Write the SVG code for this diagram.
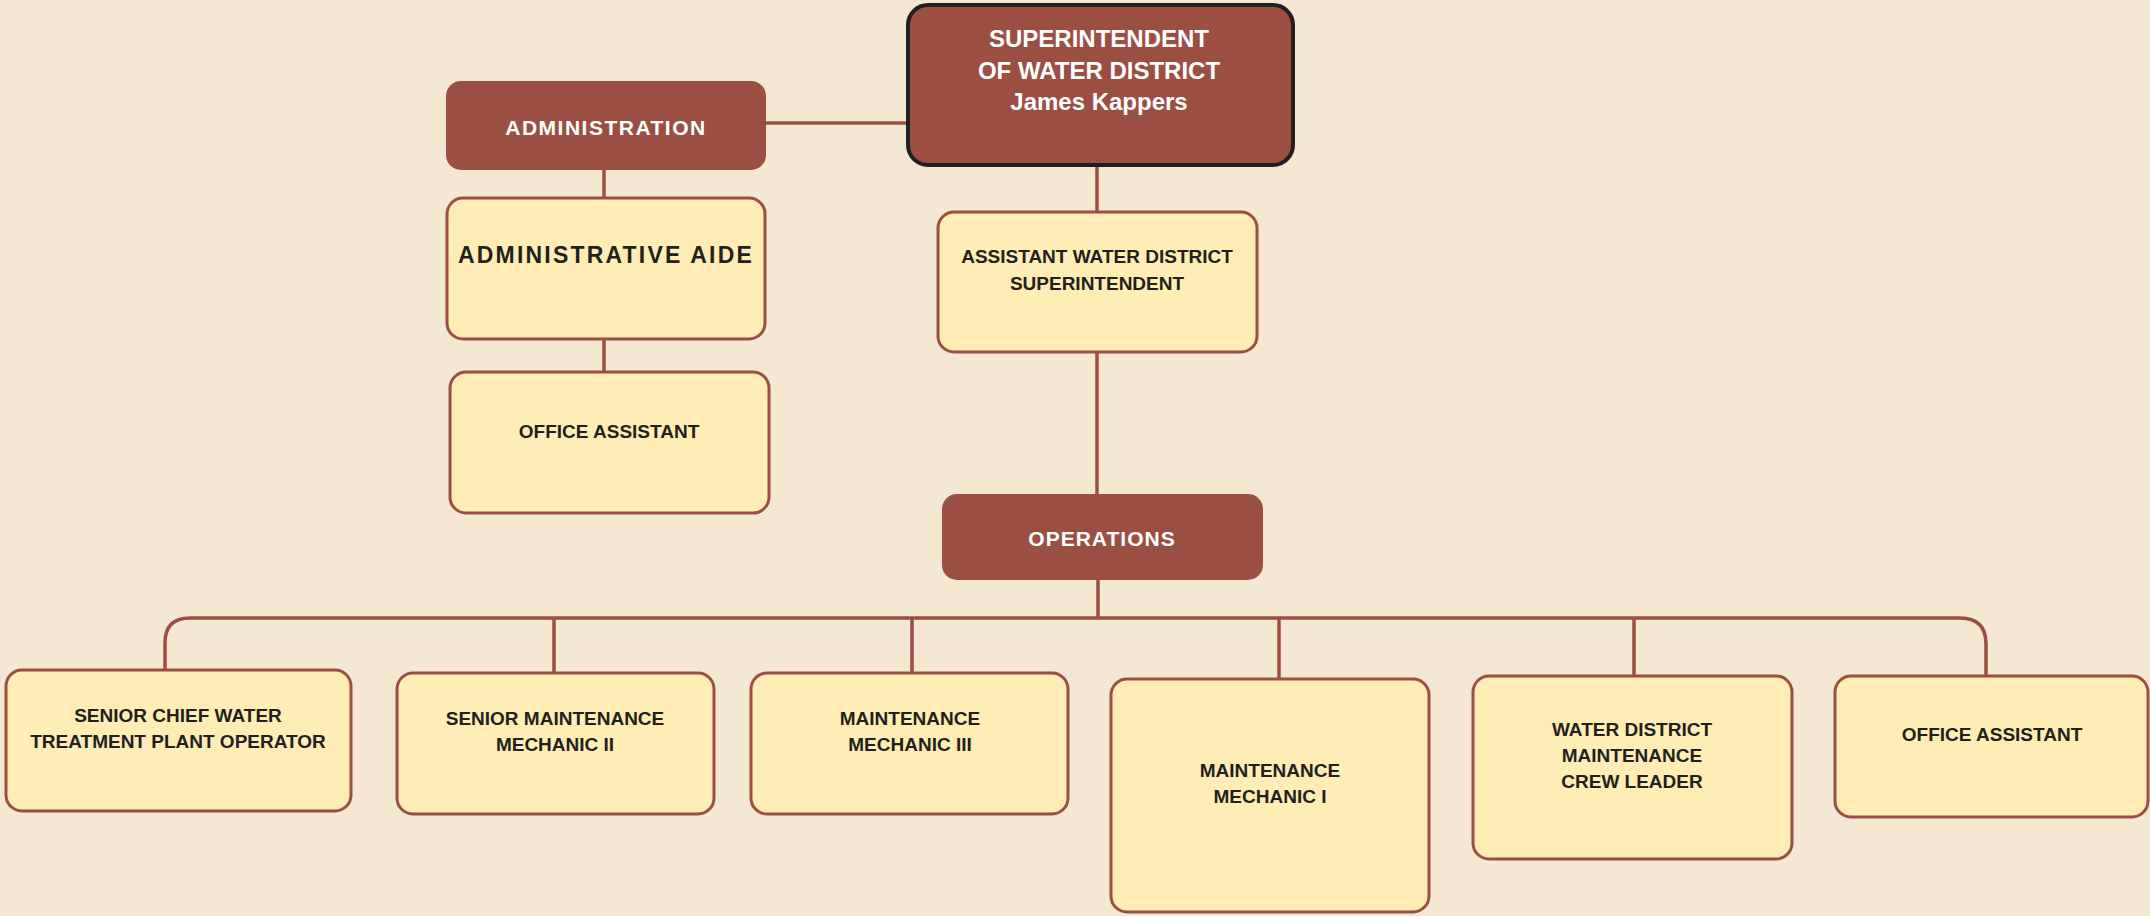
<svg xmlns="http://www.w3.org/2000/svg" width="2150" height="916" viewBox="0 0 2150 916">
<style>
.dark{fill:#9B4F43;}
.light{fill:#FFEDB5;stroke:#9B4F43;stroke-width:3;}
.wt{fill:#FFFFFF;font-family:"Liberation Sans",Arial,sans-serif;font-weight:bold;text-anchor:middle;}
.bt{fill:#231F1E;font-family:"Liberation Sans",Arial,sans-serif;font-weight:bold;text-anchor:middle;font-size:19px;}
.ln{fill:none;stroke:#9B4F43;stroke-width:3.5;}
</style>
<rect x="0" y="0" width="2150" height="916" fill="#F5E8D2"/>
<g id="connectors">
<path class="ln" d="M766,123 H908"/>
<path class="ln" d="M604,170 V197"/>
<path class="ln" d="M604,339 V372"/>
<path class="ln" d="M1097,165 V211"/>
<path class="ln" d="M1097,352 V494"/>
<path class="ln" d="M1098,580 V618"/>
<path class="ln" stroke-width="4.5" d="M165,669 V643 Q165,618 190,618 H1960 Q1986,618 1986,644 V676"/>
<path class="ln" d="M554,618 V673"/>
<path class="ln" d="M912,618 V673"/>
<path class="ln" d="M1279,618 V679"/>
<path class="ln" d="M1634,618 V676"/>
</g>
<g id="superintendent">
<rect x="908" y="5" width="385" height="160" rx="20" fill="#9B4F43" stroke="#231F20" stroke-width="4"/>
<text class="wt" font-size="24" x="1099" y="47">SUPERINTENDENT</text>
<text class="wt" font-size="24" x="1099" y="79">OF WATER DISTRICT</text>
<text class="wt" font-size="24" x="1099" y="110">James Kappers</text>
</g>
<g id="administration">
<rect class="dark" x="446" y="81" width="320" height="89" rx="15"/>
<text class="wt" font-size="21" letter-spacing="1.5" x="606" y="135">ADMINISTRATION</text>
</g>
<g id="administrative-aide">
<rect class="light" x="447" y="198" width="318" height="141" rx="16"/>
<text class="bt" style="font-size:23px" letter-spacing="2.2" x="606" y="263">ADMINISTRATIVE AIDE</text>
</g>
<g id="office-assistant-admin">
<rect class="light" x="450" y="372" width="319" height="141" rx="16"/>
<text class="bt" x="609" y="438">OFFICE ASSISTANT</text>
</g>
<g id="assistant-superintendent">
<rect class="light" x="938" y="212" width="319" height="140" rx="16"/>
<text class="bt" x="1097" y="263">ASSISTANT WATER DISTRICT</text>
<text class="bt" x="1097" y="290">SUPERINTENDENT</text>
</g>
<g id="operations">
<rect class="dark" x="942" y="494" width="321" height="86" rx="15"/>
<text class="wt" font-size="21" letter-spacing="1" x="1102" y="546">OPERATIONS</text>
</g>
<g id="senior-chief">
<rect class="light" x="6" y="670" width="345" height="141" rx="16"/>
<text class="bt" x="178" y="722">SENIOR CHIEF WATER</text>
<text class="bt" x="178" y="748">TREATMENT PLANT OPERATOR</text>
</g>
<g id="senior-maintenance">
<rect class="light" x="397" y="673" width="317" height="141" rx="16"/>
<text class="bt" x="555" y="725">SENIOR MAINTENANCE</text>
<text class="bt" x="555" y="751">MECHANIC II</text>
</g>
<g id="maintenance-mechanic-3">
<rect class="light" x="751" y="673" width="317" height="141" rx="16"/>
<text class="bt" x="910" y="725">MAINTENANCE</text>
<text class="bt" x="910" y="751">MECHANIC III</text>
</g>
<g id="maintenance-mechanic-1">
<rect class="light" x="1111" y="679" width="318" height="233" rx="16"/>
<text class="bt" x="1270" y="777">MAINTENANCE</text>
<text class="bt" x="1270" y="803">MECHANIC I</text>
</g>
<g id="crew-leader">
<rect class="light" x="1473" y="676" width="319" height="183" rx="16"/>
<text class="bt" x="1632" y="736">WATER DISTRICT</text>
<text class="bt" x="1632" y="762">MAINTENANCE</text>
<text class="bt" x="1632" y="788">CREW LEADER</text>
</g>
<g id="office-assistant-ops">
<rect class="light" x="1835" y="676" width="313" height="141" rx="16"/>
<text class="bt" x="1992" y="741">OFFICE ASSISTANT</text>
</g>
</svg>
